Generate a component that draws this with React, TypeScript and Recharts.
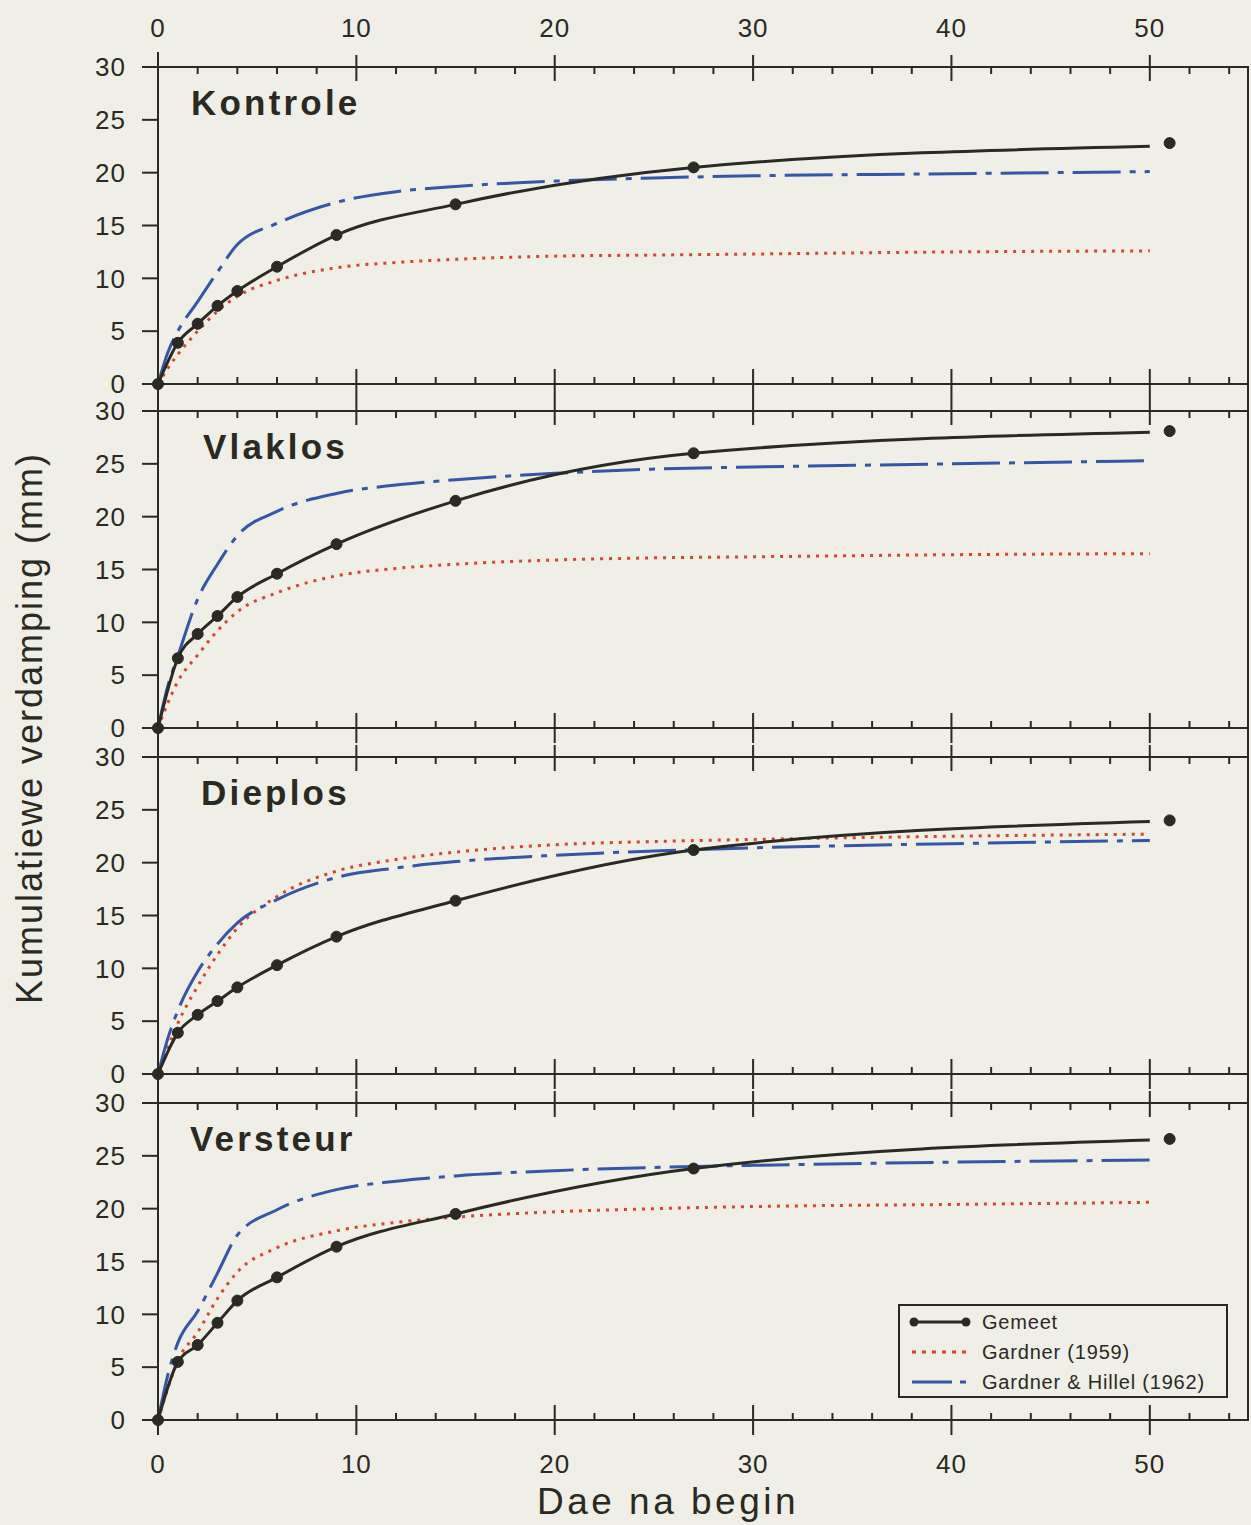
import React from 'react';
import { ComposedChart, Line, XAxis, YAxis, Legend } from 'recharts';

// x ticks every 2 days, labels on the tens
const xTicks = [0, 2, 4, 6, 8, 10, 12, 14, 16, 18, 20, 22, 24, 26, 28, 30, 32, 34, 36, 38, 40, 42, 44, 46, 48, 50, 52, 54];
const yTicks = [0, 5, 10, 15, 20, 25, 30];

const panelNames = ['Kontrole', 'Vlaklos', 'Dieplos', 'Versteur'];

// measured (Gemeet) days and values
const measuredDays = [0, 1, 2, 3, 4, 6, 9, 15, 27, 51];
const gemeetKontrole = [0, 3.9, 5.7, 7.4, 8.8, 11.1, 14.1, 17.0, 20.5, 22.8];
const gemeetVlaklos = [0, 6.6, 8.9, 10.6, 12.4, 14.6, 17.4, 21.5, 26.0, 28.1];
const gemeetDieplos = [0, 3.9, 5.6, 6.9, 8.2, 10.3, 13.0, 16.4, 21.2, 24.0];
const gemeetVersteur = [0, 5.5, 7.1, 9.2, 11.3, 13.5, 16.4, 19.5, 23.8, 26.6];

// the drawn Gemeet curve stops at day 50
const curveEndDay = 50;
const curveEndValues = [22.5, 28.0, 23.9, 26.5];

// model curves
const modelDays = [0, 0.5, 1, 2, 3, 4, 6, 9, 12, 15, 20, 25, 30, 40, 50];
const gardner1959Kontrole = [0, 1.5, 2.8, 5.0, 6.9, 8.3, 9.8, 11.0, 11.5, 11.8, 12.1, 12.2, 12.3, 12.5, 12.6];
const gardner1959Vlaklos = [0, 2.4, 4.4, 6.9, 9.2, 11.0, 12.8, 14.4, 15.1, 15.5, 15.9, 16.1, 16.2, 16.4, 16.5];
const gardner1959Dieplos = [0, 2.5, 4.8, 8.3, 11.3, 13.8, 16.8, 19.2, 20.3, 21.0, 21.7, 22.0, 22.2, 22.5, 22.7];
const gardner1959Versteur = [0, 3.0, 5.6, 8.3, 11.5, 14.0, 16.3, 17.9, 18.7, 19.2, 19.7, 20.0, 20.2, 20.4, 20.6];

const hillelKontrole = [0, 3.0, 5.0, 7.8, 10.6, 13.2, 15.2, 17.2, 18.2, 18.7, 19.2, 19.5, 19.7, 19.9, 20.1];
const hillelVlaklos = [0, 4.0, 6.8, 12.2, 15.5, 18.2, 20.5, 22.2, 23.0, 23.5, 24.1, 24.5, 24.7, 25.0, 25.3];
const hillelDieplos = [0, 3.4, 6.0, 9.7, 12.3, 14.3, 16.5, 18.6, 19.5, 20.1, 20.7, 21.1, 21.4, 21.8, 22.1];
const hillelVersteur = [0, 4.3, 7.3, 10.3, 13.9, 17.5, 19.9, 21.8, 22.6, 23.1, 23.6, 23.9, 24.1, 24.4, 24.6];

const gemeetSeries = [gemeetKontrole, gemeetVlaklos, gemeetDieplos, gemeetVersteur];
const gardnerSeries = [gardner1959Kontrole, gardner1959Vlaklos, gardner1959Dieplos, gardner1959Versteur];
const hillelSeries = [hillelKontrole, hillelVlaklos, hillelDieplos, hillelVersteur];

const legendNames = ['Gemeet', 'Gardner (1959)', 'Gardner & Hillel (1962)'];

const BG = '#efefe7';
const INK = '#2a2a22';
const RED = '#d6452a';
const BLUE = '#3556a8';
const FONT = '"Liberation Sans", Arial, sans-serif';

const PLOT_TOPS = [67, 411, 757, 1103];
const TITLE_LEFTS = [191, 203, 201, 190];
const PLOT_H = 317;
const MARGIN = 60; // outer margin + axis size above and below each plot

function buildRows(i: number) {
  const days = Array.from(new Set([...measuredDays, ...modelDays, curveEndDay])).sort((a, b) => a - b);
  return days.map((d) => {
    const mi = measuredDays.indexOf(d);
    const gi = modelDays.indexOf(d);
    let curve: number | null = null;
    if (mi >= 0 && d <= curveEndDay) curve = gemeetSeries[i][mi];
    if (d === curveEndDay) curve = curveEndValues[i];
    return {
      x: d,
      curve,
      dot: mi >= 0 ? gemeetSeries[i][mi] : null,
      g59: gi >= 0 ? gardnerSeries[i][gi] : null,
      gh62: gi >= 0 ? hillelSeries[i][gi] : null,
    };
  });
}

const XTick = (props: any) => {
  const { x, y, payload, side, showLabel } = props;
  const v = payload.value;
  const major = v % 10 === 0;
  let line;
  if (side === 'top') {
    line = major ? <line x1={x} x2={x} y1={y - 12} y2={y + 14} stroke={INK} strokeWidth={2} />
      : <line x1={x} x2={x} y1={y} y2={y + 7} stroke={INK} strokeWidth={2} />;
  } else {
    line = major ? <line x1={x} x2={x} y1={y - 15} y2={y + 15} stroke={INK} strokeWidth={2} />
      : <line x1={x} x2={x} y1={y} y2={y - 7} stroke={INK} strokeWidth={2} />;
  }
  return (
    <g>
      {line}
      {showLabel && major && (
        <text x={x} y={side === 'top' ? y - 30 : y + 53} textAnchor="middle" fontSize={26} letterSpacing={1} fill={INK} fontFamily={FONT}>
          {v}
        </text>
      )}
    </g>
  );
};

const LegendBox = () => (
  <div style={{ width: 330, height: 94, border: `2px solid ${INK}`, boxSizing: 'border-box', background: BG, fontFamily: FONT }}>
    {legendNames.map((name, k) => (
      <div key={name} style={{ display: 'flex', alignItems: 'center', height: 30, marginTop: k === 0 ? 1 : 0 }}>
        <svg width={80} height={20} style={{ marginLeft: 4 }}>
          {k === 0 && (
            <g>
              <line x1={10} x2={62} y1={10} y2={10} stroke={INK} strokeWidth={3} />
              <circle cx={10} cy={10} r={4.5} fill={INK} />
              <circle cx={62} cy={10} r={4.5} fill={INK} />
            </g>
          )}
          {k === 1 && <line x1={8} x2={68} y1={10} y2={10} stroke={RED} strokeWidth={3} strokeDasharray="4 6" />}
          {k === 2 && <line x1={8} x2={68} y1={10} y2={10} stroke={BLUE} strokeWidth={3} strokeDasharray="40 8 6 8" />}
        </svg>
        <span style={{ fontSize: 20, color: INK, letterSpacing: 0.8, marginLeft: -2 }}>{name}</span>
      </div>
    ))}
  </div>
);

const Panel = ({ i }: { i: number }) => {
  const rows = buildRows(i);
  const isFirst = i === 0;
  const isLast = i === 3;
  return (
    <div style={{ position: 'absolute', left: 0, top: PLOT_TOPS[i] - MARGIN }}>
      <ComposedChart
        width={1251}
        height={PLOT_H + 2 * MARGIN}
        data={rows}
        margin={{ top: 30, right: 2, bottom: 30, left: 98 }}
      >
        <XAxis
          xAxisId="top"
          orientation="top"
          dataKey="x"
          type="number"
          domain={[0, 55]}
          ticks={xTicks}
          interval={0}
          height={30}
          tickSize={0}
          tickMargin={0}
          tickLine={false}
          axisLine={{ stroke: INK, strokeWidth: 2 }}
          tick={(p: any) => <XTick {...p} side="top" showLabel={isFirst} />}
        />
        <XAxis
          xAxisId="bottom"
          orientation="bottom"
          dataKey="x"
          type="number"
          domain={[0, 55]}
          ticks={xTicks}
          interval={0}
          height={30}
          tickSize={0}
          tickMargin={0}
          tickLine={false}
          axisLine={{ stroke: INK, strokeWidth: 2 }}
          tick={(p: any) => <XTick {...p} side="bottom" showLabel={isLast} />}
        />
        <YAxis
          type="number"
          domain={[0, 30]}
          ticks={yTicks}
          interval={0}
          width={60}
          tickSize={16}
          tickMargin={16}
          axisLine={{ stroke: INK, strokeWidth: 2 }}
          tickLine={{ stroke: INK, strokeWidth: 2 }}
          tick={{ fontSize: 26, fill: INK, fontFamily: FONT, letterSpacing: 1 }}
        />
        <Line
          xAxisId="bottom"
          dataKey="g59"
          type="monotone"
          connectNulls
          stroke={RED}
          strokeWidth={3}
          strokeDasharray="3 6"
          dot={false}
          isAnimationActive={false}
        />
        <Line
          xAxisId="bottom"
          dataKey="gh62"
          type="monotone"
          connectNulls
          stroke={BLUE}
          strokeWidth={3}
          strokeDasharray="48 9 6 9"
          dot={false}
          isAnimationActive={false}
        />
        <Line
          xAxisId="bottom"
          dataKey="curve"
          type="monotone"
          connectNulls
          stroke={INK}
          strokeWidth={3}
          dot={false}
          isAnimationActive={false}
        />
        <Line
          xAxisId="bottom"
          dataKey="dot"
          stroke="none"
          dot={{ r: 5.5, fill: INK, stroke: INK, strokeWidth: 1 }}
          isAnimationActive={false}
        />
        {isLast && (
          <Legend
            layout="horizontal"
            verticalAlign="middle"
            align="center"
            content={() => <LegendBox />}
            wrapperStyle={{ position: 'absolute', left: 898, top: 1304 - (PLOT_TOPS[3] - MARGIN), width: 330, height: 94 }}
          />
        )}
      </ComposedChart>
      <div
        style={{
          position: 'absolute',
          left: TITLE_LEFTS[i],
          top: MARGIN + 17,
          fontFamily: FONT,
          fontWeight: 'bold',
          fontSize: 35,
          letterSpacing: 3.2,
          color: INK,
          lineHeight: '38px',
        }}
      >
        {panelNames[i]}
      </div>
    </div>
  );
};

export default function App() {
  return (
    <div style={{ position: 'absolute', left: 0, top: 0, width: 1251, height: 1525, background: BG, overflow: 'hidden' }}>
      {[0, 1, 2, 3].map((i) => (
        <Panel key={i} i={i} />
      ))}
      {/* continuous frame lines through the gaps */}
      <div style={{ position: 'absolute', left: 157, top: 52, width: 2, height: 1383, background: INK }} />
      <div style={{ position: 'absolute', left: 1247, top: 67, width: 2, height: 1353, background: INK }} />
      <div
        style={{
          position: 'absolute',
          left: 30,
          top: 728,
          transform: 'translate(-50%, -50%) rotate(-90deg)',
          whiteSpace: 'nowrap',
          fontFamily: FONT,
          fontSize: 36,
          letterSpacing: 2,
          color: INK,
        }}
      >
        Kumulatiewe verdamping (mm)
      </div>
      <div
        style={{
          position: 'absolute',
          left: 668,
          top: 1502,
          transform: 'translate(-50%, -50%)',
          whiteSpace: 'nowrap',
          fontFamily: FONT,
          fontSize: 37,
          letterSpacing: 3.5,
          color: INK,
        }}
      >
        Dae na begin
      </div>
    </div>
  );
}
